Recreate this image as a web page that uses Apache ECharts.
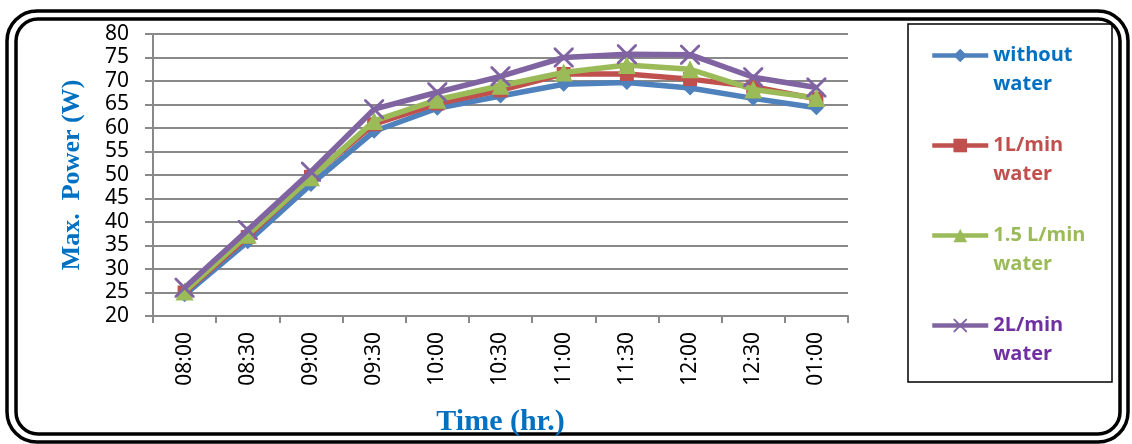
<!DOCTYPE html>
<html>
<head>
<meta charset="utf-8">
<script src="https://cdn.jsdelivr.net/npm/echarts@6/dist/echarts.min.js"></script>
<style>html,body{margin:0;padding:0;background:#fff;}#c{width:1132px;height:444px;}</style>
</head>
<body>
<div id="c"></div>
<script>
const categories = ['08:00','08:30','09:00','09:30','10:00','10:30','11:00','11:30','12:00','12:30','01:00'];
const withoutWater = [24.5, 35.8, 48.0, 59.3, 64.2, 66.8, 69.3, 69.7, 68.5, 66.3, 64.3];
const water1L = [25.0, 36.8, 49.6, 60.8, 65.2, 68.0, 71.5, 71.5, 70.4, 68.8, 66.2];
const water15L = [25.2, 37.3, 49.5, 61.5, 66.0, 69.0, 71.8, 73.4, 72.5, 68.2, 66.4];
const water2L = [26.0, 38.3, 50.7, 64.0, 67.6, 71.0, 75.0, 75.7, 75.6, 70.8, 68.6];
const seriesNames = ['without\nwater', '1L/min\nwater', '1.5 L/min\nwater', '2L/min\nwater'];
const yTicks = {min: 20, max: 80, interval: 5};

const lineColors = ['#4F81BD', '#C0504D', '#9BBB59', '#8064A2'];
const textColors = ['#0070C0', '#C0504D', '#9BBB59', '#7030A0'];
const symbols = ['diamond', 'rect', 'triangle',
  'path://M0,0 L2,0 L10,8 L18,0 L20,0 L20,2 L12,10 L20,18 L20,20 L18,20 L10,12 L2,20 L0,20 L0,18 L8,10 L0,2 Z'];
const symbolSizes = [15, 14, 18, 20];
const dataSets = [withoutWater, water1L, water15L, water2L];

const chart = echarts.init(document.getElementById('c'), null, {renderer: 'canvas'});
const gray = '#898989';
chart.setOption({
  animation: false,
  backgroundColor: '#fff',
  grid: {left: 153, top: 34, right: 284, bottom: 128, containLabel: false},
  xAxis: {
    type: 'category',
    data: categories,
    boundaryGap: true,
    axisLine: {lineStyle: {color: gray, width: 2}},
    axisTick: {show: true, length: 7, lineStyle: {color: gray, width: 2}},
    axisLabel: {rotate: 90, margin: 16, color: '#000', fontSize: 21, fontFamily: 'Noto Sans'},
    name: 'Time (hr.)',
    nameLocation: 'middle',
    nameGap: 91,
    nameTextStyle: {color: '#0070C0', fontSize: 30, fontWeight: 'bold', fontFamily: 'Liberation Serif'}
  },
  yAxis: {
    type: 'value',
    min: yTicks.min, max: yTicks.max, interval: yTicks.interval,
    axisLine: {show: true, lineStyle: {color: gray, width: 2}},
    axisTick: {show: true, length: 8, lineStyle: {color: gray, width: 2}},
    splitLine: {show: true, lineStyle: {color: gray, width: 2}},
    axisLabel: {margin: 24, color: '#000', fontSize: 21, fontFamily: 'Noto Sans'},
    name: 'Max.  Power (W)',
    nameLocation: 'middle',
    nameGap: 68,
    nameTextStyle: {color: '#0070C0', fontSize: 26, fontWeight: 'bold', fontFamily: 'Liberation Serif'}
  },
  legend: {
    orient: 'vertical',
    left: 930,
    top: 12,
    padding: 0,
    itemWidth: 56,
    itemHeight: 17,
    itemGap: 3,
    formatter: n => '\n' + n,
    lineStyle: {width: 4.5},
    data: seriesNames.map((n, i) => ({
      name: n,
      textStyle: {color: textColors[i], fontSize: 20, fontWeight: 'bold', fontFamily: 'Open Sans', lineHeight: 29}
    })),
    textStyle: {fontSize: 20, fontWeight: 'bold', fontFamily: 'Open Sans', lineHeight: 29}
  },
  graphic: [
    {type: 'rect', shape: {x: 7, y: 11, width: 1121, height: 431, r: 30}, style: {fill: 'none', stroke: '#000', lineWidth: 3.5}, silent: true},
    {type: 'rect', shape: {x: 16, y: 19, width: 1104, height: 415, r: 22}, style: {fill: 'none', stroke: '#000', lineWidth: 3.5}, silent: true},
    {type: 'rect', shape: {x: 908, y: 24, width: 204, height: 358}, style: {fill: 'none', stroke: '#000', lineWidth: 1.5}, silent: true}
  ],
  series: seriesNames.map((n, i) => ({
    name: n,
    type: 'line',
    data: dataSets[i],
    symbol: symbols[i],
    symbolSize: symbolSizes[i],
    showAllSymbol: true,
    lineStyle: {color: lineColors[i], width: 5.5},
    itemStyle: {color: lineColors[i]},
    z: 2 + i
  }))
});
</script>
</body>
</html>
